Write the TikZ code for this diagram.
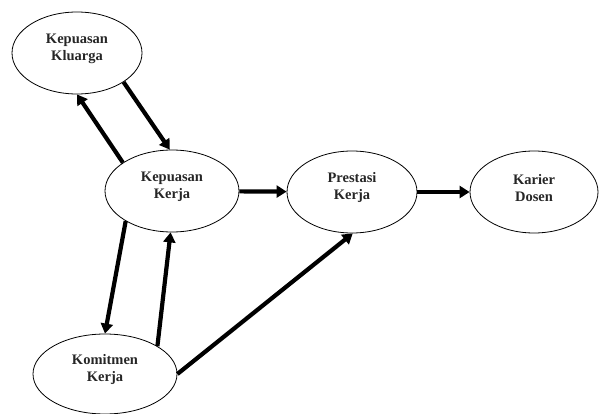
\documentclass[tikz,border=0pt]{standalone}
\usepackage{fontspec}
\setmainfont{Liberation Serif}[BoldFont={Liberation Serif Bold}]
\usetikzlibrary{shapes.geometric,arrows.meta}
\tikzset{
  ell/.style={draw, ellipse, line width=0.8pt, inner sep=0pt},
  lbl/.style={align=center, font=\bfseries\fontsize{14.5}{17}\selectfont, text=black!85},
  conn/.style={line width=4.2pt, -{Triangle[length=10pt,width=12pt]}}
}
\begin{document}
\begin{tikzpicture}[x=1pt,y=-1pt]
\useasboundingbox (0,0) rectangle (599,414);
\node[ell, minimum width=130pt, minimum height=82pt] (kl) at (77,53) {};
\node[ell, minimum width=134pt, minimum height=82pt] (kk) at (172,191) {};
\node[ell, minimum width=130pt, minimum height=82pt] (pr) at (352,192) {};
\node[ell, minimum width=128pt, minimum height=82pt] (kd) at (534,192) {};
\node[ell, minimum width=144pt, minimum height=80pt] (km) at (105,374) {};
\node[lbl] (tkl) at ([yshift=4pt]kl.center) {Kepuasan\\Kluarga};
\node[lbl] (tkk) at ([yshift=4pt]kk.center) {Kepuasan\\Kerja};
\node[lbl] (tpr) at ([yshift=4pt]pr.center) {Prestasi\\Kerja};
\node[lbl] (tkd) at ([yshift=4pt]kd.center) {Karier\\Dosen};
\node[lbl] (tkm) at ([yshift=4pt]km.center) {Komitmen\\Kerja};
\draw[conn] (kk.150) -- (kl.270);
\draw[conn] (kl.-32) -- (kk.93);
\draw[conn] (kk) -- (pr);
\draw[conn] (pr) -- (kd);
\draw[conn] (kk.213) -- (km.90);
\draw[conn] (km.28) -- (kk.268);
\draw[conn] (km.0) -- (pr.271);
\end{tikzpicture}
\end{document}
